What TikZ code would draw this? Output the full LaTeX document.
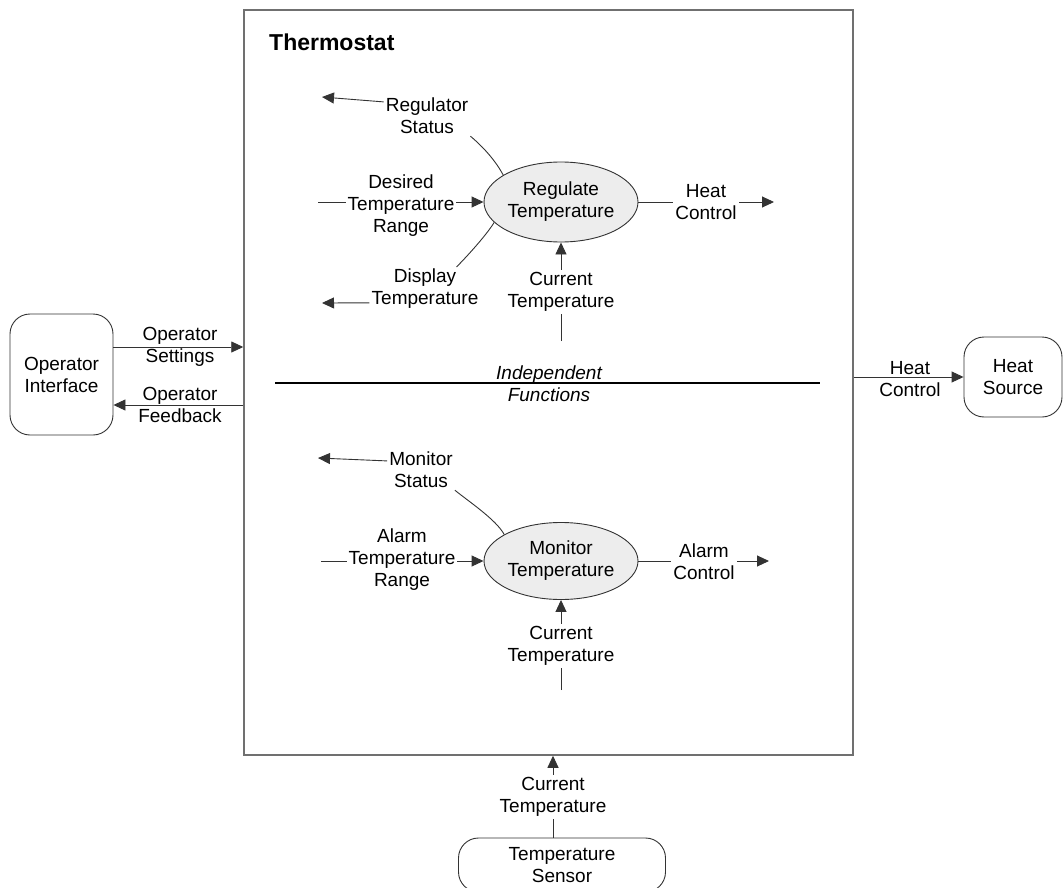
\documentclass[tikz,border=0pt]{standalone}
\usepackage{fontspec}
\setmainfont{Liberation Sans}
\usetikzlibrary{arrows.meta,shapes.geometric}
\definecolor{linec}{HTML}{333333}
\definecolor{boxc}{HTML}{707070}
\definecolor{procfill}{HTML}{EDEDED}
\begin{document}
\begin{tikzpicture}[x=1pt,y=-1pt,
  every node/.style={font=\fontsize{19}{22}\selectfont, text=black},
  conn/.style={draw=linec, line width=0.9pt},
  arr/.style={conn, -{Triangle[length=12pt,width=11pt]}},
  lbl/.style={align=center, inner sep=2pt},
  wlbl/.style={lbl, fill=white},
  proc/.style={ellipse, draw=linec, line width=0.9pt, fill=procfill,
    minimum width=154pt, minimum height=80pt, inner sep=0pt, align=center},
  ext/.style={rectangle, rounded corners=20pt, draw=linec, line width=0.9pt,
    align=center, inner sep=0pt}]

\useasboundingbox (0,0) rectangle (1063,888);

% system boundary
\node[draw=boxc, line width=1.5pt, minimum width=609pt, minimum height=745pt,
  inner sep=0pt] (thermo) at (548.5,382.5) {};
\node[font=\fontsize{23}{27}\selectfont\bfseries, anchor=west, inner sep=0pt]
  (title) at (269,42) {Thermostat};

% processes
\node[proc] (reg) at (561,202) {Regulate\\Temperature};
\node[proc, minimum height=77pt] (mon) at (561,561) {Monitor\\Temperature};

% external entities
\node[ext, minimum width=103pt, minimum height=121pt] (opi) at (61.5,374.5) {Operator\\Interface};
\node[ext, minimum width=98pt, minimum height=80pt] (hs) at (1013,377) {Heat\\Source};
\node[ext, minimum width=207pt, minimum height=54pt] (ts) at (562,865) {Temperature\\Sensor};

% free ends of the internal flows
\coordinate (rsTip) at (322,97);
\coordinate (dsTip) at (322,303);
\coordinate (dtrA) at (318,202);
\coordinate (hcTip) at (774,202);
\coordinate (cur1B) at (561,341);
\coordinate (msTip) at (318,458);
\coordinate (atrA) at (321,561);
\coordinate (acTip) at (769,561);
\coordinate (cur2B) at (561,690);

% regulate flows
\draw[arr] (dtrA) -- (reg.west);
\draw[arr] (reg.east) -- (hcTip);
\draw[arr] (cur1B) -- (reg.south);
\node[wlbl] (dtr) at (401,206) {Desired\\Temperature\\Range};
\node[wlbl] (hc1) at (706,202) {Heat\\Control};
\node[wlbl] (cur1) at (561,292) {Current\\Temperature};
\node[wlbl] (rstat) at (427,116) {Regulator\\Status};
\node[wlbl] (dspl) at (425,289) {Display\\Temperature};
\draw[arr] (rstat.162) -- (rsTip);
\draw[conn] (reg.155) .. controls +(-8,-15) and +(12,10) .. (rstat.south east);
\draw[arr] (dspl.194) -- (dsTip);
\draw[conn] (reg.197) .. controls +(-8,13) and +(10,-10) .. (dspl.35);

% divider between the two functions
\coordinate (divL) at (275,383);
\coordinate (divR) at (820,383);
\draw[line width=2.6pt, black] (divL) -- (divR);
\node[lbl, font=\fontsize{19}{22}\selectfont\itshape] (indep) at (549,384) {Independent\\Functions};

% monitor flows
\draw[arr] (atrA) -- (mon.west);
\draw[arr] (mon.east) -- (acTip);
\draw[arr] (cur2B) -- (mon.south);
\node[wlbl] (atr) at (402,560) {Alarm\\Temperature\\Range};
\node[wlbl] (ac) at (704,562) {Alarm\\Control};
\node[wlbl] (cur2) at (561,646) {Current\\Temperature};
\node[wlbl] (mstat) at (421,470) {Monitor\\Status};
\draw[arr] (mstat.165) -- (msTip);
\draw[conn] (mon.155) .. controls +(-8,-15) and +(12,10) .. (mstat.south east);

% context flows
\coordinate (osA) at ([yshift=27.5pt]opi.east);
\coordinate (ofA) at ([yshift=-30.5pt]opi.east);
\draw[arr] (osA) -- (osA -| thermo.west);
\draw[arr] (ofA -| thermo.west) -- (ofA);
\node[lbl] (os) at (180,347) {Operator\\Settings};
\node[lbl] (of) at (180,405) {Operator\\Feedback};

\draw[arr] (thermo.east |- hs.west) -- (hs.west);
\node[lbl] (hc2) at (910,379) {Heat\\Control};

\coordinate (tsA) at ([xshift=-9pt]ts.north);
\draw[arr] (tsA) -- (tsA |- thermo.south);
\node[wlbl] (tsl) at (553,797) {Current\\Temperature};
\end{tikzpicture}
\end{document}
